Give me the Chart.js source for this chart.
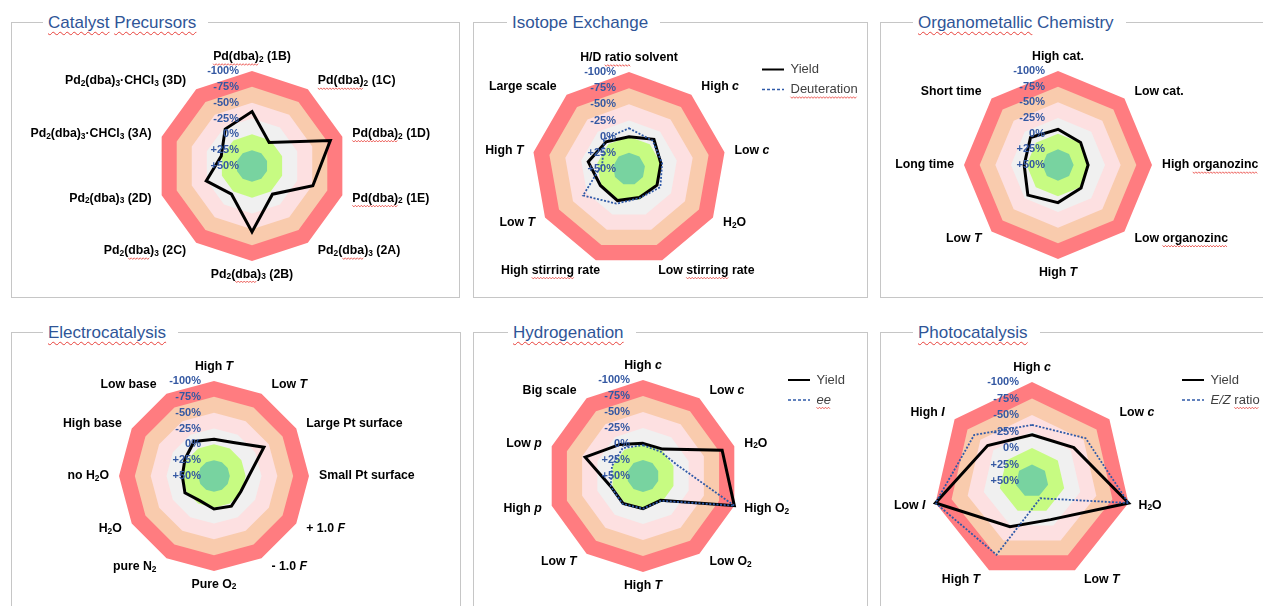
<!DOCTYPE html>
<html>
<head>
<meta charset="utf-8">
<script src="https://cdn.jsdelivr.net/npm/chart.js@4.4.1/dist/chart.umd.min.js"></script>
<style>
html, body { margin: 0; padding: 0; background: #fff; width: 1263px; height: 606px; overflow: hidden; position: relative; }
.frame { position: absolute; border: 1px solid #c6c6c6; box-sizing: border-box; }
.title { position: absolute; background: #fff; font: 17px "Liberation Sans", Arial, sans-serif; color: #2f5597; padding: 0 12px 0 5px; line-height: 20px; white-space: nowrap; }
.sq { text-decoration: underline wavy #e8403a; text-decoration-thickness: 1px; text-underline-offset: 3px; text-decoration-skip-ink: none; }
canvas { position: absolute; }
</style>
</head>
<body>
<script>
// markup in labels: *italic*, ~spell-check squiggle~, _x = subscript x
const catLabels = ['~Pd(dba)~_2 (1B)', '~Pd(dba)~_2 (1C)', '~Pd(dba)~_2 (1D)', '~Pd(dba)~_2 (1E)', 'Pd_2(~dba~)_3 (2A)',
  'Pd_2(~dba~)_3 (2B)', 'Pd_2(~dba~)_3 (2C)', 'Pd_2(dba)_3 (2D)', 'Pd_2(dba)_3·CHCl_3 (3A)', 'Pd_2(dba)_3·CHCl_3 (3D)'];
const catYield = [-36, 4, -80, -51, -5, -54, -5, -26, -1, -22];

const isoLabels = ['H/D ~ratio~ solvent', 'High *c*', 'Low *c*', 'H_2O', 'Low ~stirring~ rate', 'High ~stirring~ rate',
  'Low *T*', 'High *T*', 'Large scale'];
const isoYield = [0, -10, 0, 0, 3, -2, -1, -14, -5];
const isoDeut = [-13, -7, -2, -6, 2, -7, -32, 8, -10];

const orgLabels = ['High cat.', 'Low cat.', 'High ~organozinc~', 'Low ~organozinc~', 'High *T*', 'Low *T*', 'Long time', 'Short time'];
const orgYield = [-7, -1, 2, -2, -10, -18, -4, -12];

const eleLabels = ['High *T*', 'Low *T*', 'Large Pt surface', 'Small Pt surface', '+ 1.0 *F*', '- 1.0 *F*', 'Pure O_2',
  'pure N_2', 'H_2O', 'no H_2O', 'High base', 'Low base'];
const eleYield = [-8, -11, -41, -5, 1, -5, -2, 5, -3, 0, -3, -13];

const hydLabels = ['High *c*', 'Low *c*', 'H_2O', 'High O_2', 'Low O_2', 'High *T*', 'Low *T*', 'High *p*', 'Low *p*', 'Big scale'];
const hydYield = [-1, -2, -80, -100, 3, -1, -3, -3, -45, -11];
const hydEe = [2, 3, -6, -100, 2, -1, -4, -3, -1, -4];

const phoLabels = ['High *c*', 'Low *c*', 'H_2O', 'Low *T*', 'High *T*', 'Low *I*', 'High *I*'];
const phoYield = [-20, -31, -100, -15, -27, -100, -36];
const phoEZ = [-35, -54, -100, 21, -74, -100, -62];

const tickValues = [-100, -75, -50, -25, 0, 25, 50];
const bandLevels = [-100, -75, -50, -25, 0, 25];
const bandColors = ['#ff7c80', '#f9cbad', '#fde0e1', '#f0f0f0', '#c7fb82', '#78d3a0'];

const FONT = '"Liberation Sans", Arial, sans-serif';
const TICK_COLOR = '#3458a2';
const DOT_COLOR = '#2f5aa8';
const LABEL_SIZE = 12.3, GAP = 10;
const LEG_FONT = 13, LEG_PAD = 7, LEG_BOX = 22, LEG_W = 40;

const panels = [
  { title: '~Catalyst~ ~Precursors~', frame: [11, 22, 449, 276], titleX: 48, cx: 252, cy: 166, r: 95,
    labels: catLabels, series: [{ label: 'Yield', data: catYield }] },
  { title: 'Isotope Exchange', frame: [473, 22, 395, 276], titleX: 512, cx: 629, cy: 169, r: 97, legend: [762, 69.5],
    labels: isoLabels, series: [{ label: 'Yield', data: isoYield }, { label: '~Deuteration~', data: isoDeut, dotted: true }] },
  { title: '~Organometallic~ Chemistry', frame: [880, 22, 400, 276], titleX: 918, cx: 1058, cy: 165, r: 94,
    labels: orgLabels, series: [{ label: 'Yield', data: orgYield }] },
  { title: '~Electrocatalysis~', frame: [11, 332, 450, 300], titleX: 48, cx: 214, cy: 476, r: 95,
    labels: eleLabels, series: [{ label: 'Yield', data: eleYield }] },
  { title: '~Hydrogenation~', frame: [473, 332, 395, 300], titleX: 513, cx: 643, cy: 476, r: 96, legend: [788, 380],
    labels: hydLabels, series: [{ label: 'Yield', data: hydYield }, { label: '*~ee~*', data: hydEe, dotted: true }] },
  { title: '~Photocatalysis~', frame: [880, 332, 400, 300], titleX: 918, cx: 1032, cy: 481, r: 99, legend: [1182, 380],
    labels: phoLabels, series: [{ label: 'Yield', data: phoYield }, { label: '*E/Z* ~ratio~', data: phoEZ, dotted: true }] }
];

function parseRich(str) {
  const segs = [];
  let italic = false, wavy = false, buf = '';
  const push = (sub) => { if (buf) segs.push({ text: buf, italic, wavy, sub: !!sub }); buf = ''; };
  for (let i = 0; i < str.length; i++) {
    const ch = str[i];
    if (ch === '*') { push(); italic = !italic; }
    else if (ch === '~') { push(); wavy = !wavy; }
    else if (ch === '_') { push(); buf = str[++i]; push(true); }
    else buf += ch;
  }
  push();
  return segs;
}

function segFont(s, size, weight) {
  return (s.italic ? 'italic ' : '') + weight + ' ' + (s.sub ? size * 0.68 : size) + 'px ' + FONT;
}

function richWidth(ctx, segs, size, weight) {
  let w = 0;
  segs.forEach(s => { ctx.font = segFont(s, size, weight); w += ctx.measureText(s.text).width; });
  return w;
}

function squiggle(ctx, x0, x1, y) {
  ctx.beginPath();
  ctx.strokeStyle = '#e8403a';
  ctx.lineWidth = 0.8;
  for (let x = x0, k = 0; x <= x1; x += 1.5, k++) {
    const yy = y + (k % 2 ? 0.8 : -0.8);
    if (k) ctx.lineTo(x, yy); else ctx.moveTo(x, yy);
  }
  ctx.stroke();
}

function drawRich(ctx, segs, x, y, size, weight, color) {
  ctx.save();
  ctx.textAlign = 'left';
  ctx.textBaseline = 'middle';
  segs.forEach(s => {
    ctx.font = segFont(s, size, weight);
    ctx.fillStyle = color;
    const w = ctx.measureText(s.text).width;
    ctx.fillText(s.text, x, s.sub ? y + size * 0.22 : y);
    if (s.wavy) squiggle(ctx, x, x + w, y + size * 0.5 + 1.5);
    x += w;
  });
  ctx.restore();
}

const tickText = v => (v > 0 ? '+' : '') + v + '%';

// tick labels, category labels and legend texts (rich text), placed from the radial scale
const richText = {
  id: 'richText',
  afterDatasetsDraw(chart) {
    const s = chart.scales.r, ctx = chart.ctx;
    ctx.save();
    ctx.font = 'bold 11px ' + FONT;
    ctx.fillStyle = TICK_COLOR;
    ctx.textAlign = 'right';
    ctx.textBaseline = 'middle';
    tickValues.forEach(v => ctx.fillText(tickText(v), s.xCenter - 13, s.yCenter - s.getDistanceFromCenterForValue(v)));
    ctx.restore();

    chart.data.labels.forEach((lab, i) => {
      const segs = parseRich(lab);
      const w = richWidth(ctx, segs, LABEL_SIZE, 'bold');
      const a = s.getIndexAngle(i);
      const sin = Math.sin(a), cos = Math.cos(a);
      const p = s.getPointPosition(i, s.drawingArea);
      let left, mid;
      if (Math.abs(sin) < 0.01) {
        left = p.x - w / 2;
        mid = cos > 0 ? p.y - 8 - LABEL_SIZE / 2 : p.y + 7 + LABEL_SIZE / 2;
      } else {
        const lean = Math.max(0, 0.45 - Math.abs(sin)) / 0.45;
        const ax = lean / 2;
        left = sin > 0 ? p.x + GAP - ax * (w + 2 * GAP) : p.x - GAP - w + ax * (w + 2 * GAP);
        mid = p.y - cos * (10 + 4 * lean);
      }
      drawRich(ctx, segs, left, mid, LABEL_SIZE, 'bold', '#000');
    });

    const lg = chart.legend;
    if (lg && lg.options.display) {
      lg.legendItems.forEach((it, k) => {
        const x = lg.left + LEG_PAD + LEG_BOX + LEG_FONT / 2;
        const y = lg.top + LEG_PAD + k * (LEG_FONT + LEG_PAD) + LEG_FONT / 2;
        drawRich(ctx, parseRich(it.text), x, y, LEG_FONT, 'normal', '#404040');
      });
    }
  }
};

function layoutFor(p, W, H) {
  const x0 = p.frame[0], y0 = p.frame[1];
  if (!p.legend) {
    const left = p.cx - p.r - x0, top = p.cy - p.r - y0;
    return { padding: { left, top, right: W - left - 2 * p.r, bottom: H - top - 2 * p.r }, titleH: 0 };
  }
  const legLeft = p.legend[0] - LEG_PAD - x0;
  const cxc = p.cx - x0;
  const w = 2 * (legLeft - cxc);
  const left = cxc - w / 2;
  const legTop = p.legend[1] - LEG_PAD - LEG_FONT / 2 - y0;
  const areaTop = p.cy - p.r - y0;
  return {
    padding: { left, top: legTop, right: W - LEG_W - legLeft, bottom: H - areaTop - 2 * p.r },
    titleH: areaTop - legTop
  };
}

panels.forEach(p => {
  const [fx, fy, fw, fh] = p.frame;
  const frame = document.createElement('div');
  frame.className = 'frame';
  Object.assign(frame.style, { left: fx + 'px', top: fy + 'px', width: fw + 'px', height: fh + 'px' });
  document.body.appendChild(frame);

  const t = document.createElement('div');
  t.className = 'title';
  t.innerHTML = parseRich(p.title).map(s => s.wavy ? '<span class="sq">' + s.text + '</span>' : s.text).join('');
  t.style.left = (p.titleX - 5) + 'px';
  t.style.top = (fy + 0.5 - 10) + 'px';
  document.body.appendChild(t);

  const W = Math.min(fw, 1263 - fx), H = Math.min(fh, 606 - fy);
  const canvas = document.createElement('canvas');
  canvas.width = W; canvas.height = H;
  canvas.style.left = fx + 'px'; canvas.style.top = fy + 'px';
  document.body.appendChild(canvas);

  const lay = layoutFor(p, W, H);
  const datasets = p.series.map(se => ({
    label: se.label,
    data: se.data,
    borderColor: se.dotted ? DOT_COLOR : '#000',
    backgroundColor: 'rgba(0,0,0,0)',
    borderWidth: se.dotted ? 1.8 : 3,
    borderDash: se.dotted ? [2, 1.6] : [],
    fill: false,
    pointRadius: 0,
    clip: false,
    order: se.dotted ? 0 : 1
  }));
  bandLevels.forEach((lvl, k) => {
    datasets.push({
      label: 'band',
      data: p.labels.map(() => lvl),
      backgroundColor: bandColors[k],
      borderWidth: 0,
      fill: 'start',
      pointRadius: 0,
      order: 20 - k
    });
  });
  const nSeries = p.series.length;

  new Chart(canvas, {
    type: 'radar',
    data: { labels: p.labels, datasets },
    plugins: [richText],
    options: {
      responsive: false,
      animation: false,
      devicePixelRatio: 1,
      events: [],
      layout: { padding: lay.padding },
      elements: { line: { tension: 0 }, point: { radius: 0 } },
      scales: {
        r: {
          min: -100, max: 50, reverse: true,
          ticks: { display: false, stepSize: 25 },
          grid: { display: false },
          angleLines: { display: false },
          pointLabels: { display: false }
        }
      },
      plugins: {
        tooltip: { enabled: false },
        title: {
          display: !!p.legend, text: '',
          font: { size: 1, lineHeight: 1 },
          padding: { top: Math.max(0, lay.titleH - 1), bottom: 0 }
        },
        legend: {
          display: !!p.legend,
          position: 'right',
          align: 'start',
          maxWidth: LEG_W,
          labels: {
            usePointStyle: true,
            pointStyleWidth: LEG_BOX,
            padding: LEG_PAD,
            color: 'rgba(0,0,0,0)',
            font: { size: LEG_FONT, family: FONT },
            filter: item => item.datasetIndex < nSeries,
            sort: (a, b) => a.datasetIndex - b.datasetIndex,
            generateLabels(chart) {
              const items = Chart.defaults.plugins.legend.labels.generateLabels(chart);
              items.forEach(it => {
                const dotted = !!p.series[it.datasetIndex] && p.series[it.datasetIndex].dotted;
                it.pointStyle = 'line';
                it.lineWidth = dotted ? 1.3 : 2;
                it.lineDash = dotted ? [3, 2] : [];
              });
              return items;
            }
          }
        }
      }
    }
  });
});
</script>
</body>
</html>
